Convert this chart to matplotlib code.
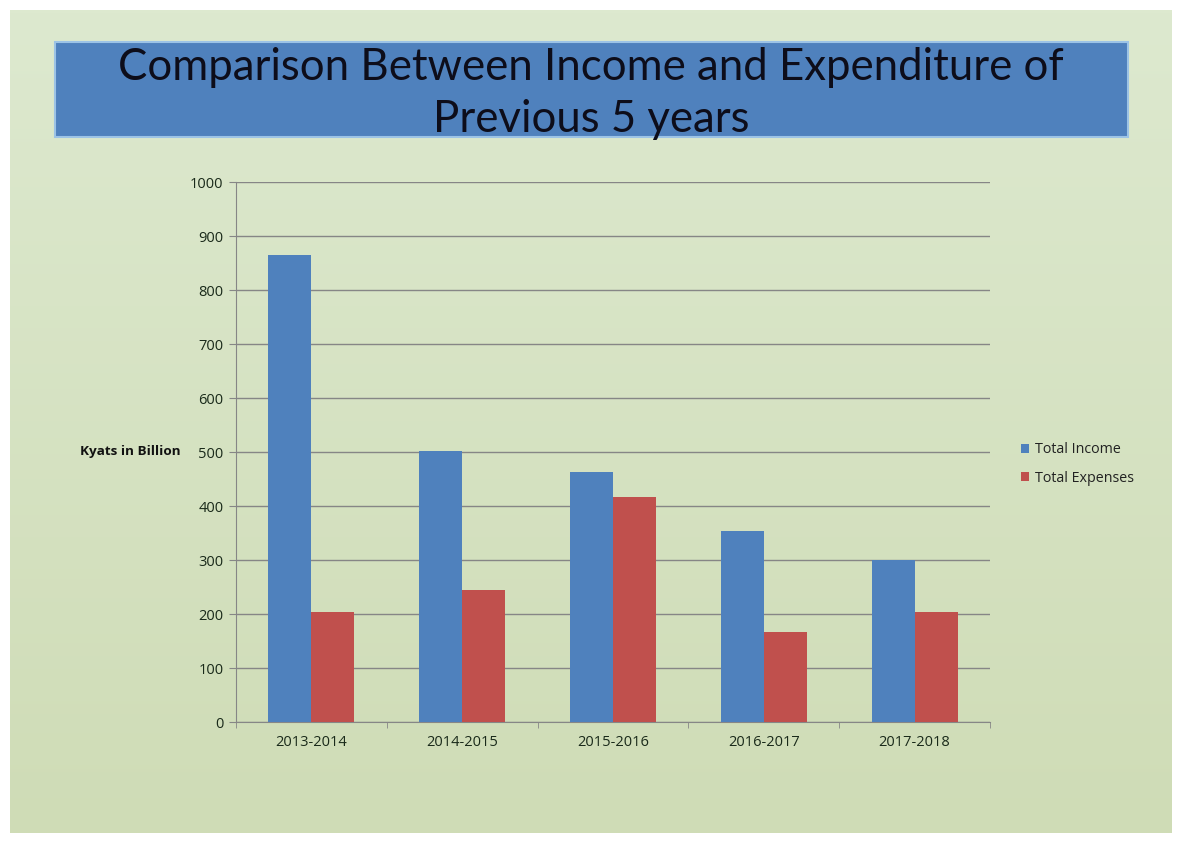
import numpy as np
import matplotlib
import matplotlib.pyplot as plt
from matplotlib.patches import Rectangle

years = ['2013-2014', '2014-2015', '2015-2016', '2016-2017', '2017-2018']
total_income = [865, 502, 463, 354, 300]
total_expenses = [204, 244, 417, 167, 204]

blue = '#4f81bd'
red = '#c0504d'

fig = plt.figure(figsize=(11.8, 8.44), dpi=100)
W, H = 1180, 844

def fx(px):
    return px / W

def fy(py):
    return 1 - py / H

# background: white border, light green gradient panel
bg = fig.add_axes([0, 0, 1, 1], zorder=-10)
bg.set_xlim(0, W)
bg.set_ylim(H, 0)
bg.axis('off')
grad = np.linspace(0, 1, 256).reshape(-1, 1)
cmap = matplotlib.colors.LinearSegmentedColormap.from_list('g', ['#dde9cf', '#cfdcb6'])
bg.imshow(grad, cmap=cmap, extent=[10, 1172, 833, 10], aspect='auto')
bg.add_patch(Rectangle((55, 42), 1073, 95, color=blue, ec='#9cc3e6', lw=1.5))
bg.text(591, 68, 'Comparison Between Income and Expenditure of', ha='center', va='center',
        fontsize=31.5, family='Lato', color='#0d0d1a')
bg.text(591, 119, 'Previous 5 years', ha='center', va='center',
        fontsize=31.5, family='Lato', color='#0d0d1a')

# main chart
ax = fig.add_axes([fx(236), fy(722), fx(990 - 236), (722 - 182) / H])
ax.patch.set_alpha(0)
x = np.arange(len(years))
w = 0.285
ax.bar(x - w / 2, total_income, w, color=blue, label='Total Income', zorder=3)
ax.bar(x + w / 2, total_expenses, w, color=red, label='Total Expenses', zorder=3)

ax.set_xlim(-0.5, len(years) - 0.5)
ax.set_ylim(0, 1000)
ax.set_yticks(range(0, 1001, 100))
ax.yaxis.grid(True, color='#868686', lw=1)
ax.set_axisbelow(True)
for s in ['top', 'right']:
    ax.spines[s].set_visible(False)
ax.spines['left'].set_color('#868686')
ax.spines['bottom'].set_color('#868686')
ax.set_xticks(x)
ax.set_xticklabels(years)
ax.set_xticks(np.arange(-0.5, len(years), 1), minor=True)
ax.tick_params(axis='x', which='major', length=0, pad=9, labelsize=10.5, labelcolor='#1a2a1a')
ax.tick_params(axis='x', which='minor', length=4, color='#868686')
ax.tick_params(axis='y', length=5, color='#868686', labelsize=10.5, labelcolor='#1a2a1a', pad=4)
for lab in ax.get_xticklabels() + ax.get_yticklabels():
    lab.set_family('Open Sans')

fig.text(fx(80), fy(452), 'Kyats in Billion', ha='left', va='center', fontsize=9.7,
         fontweight='bold', family='Open Sans', color='#111111')

leg = ax.legend(loc='center left', bbox_to_anchor=(fx(1008 - 236) / fx(990 - 236), (722 - 464) / (722 - 182)),
                frameon=False, handlelength=0.6, handleheight=0.6, handletextpad=0.4,
                labelspacing=0.95, prop={'family': 'Open Sans', 'size': 10.3})
for t in leg.get_texts():
    t.set_color('#222222')

fig.savefig('out.png', dpi=100)
